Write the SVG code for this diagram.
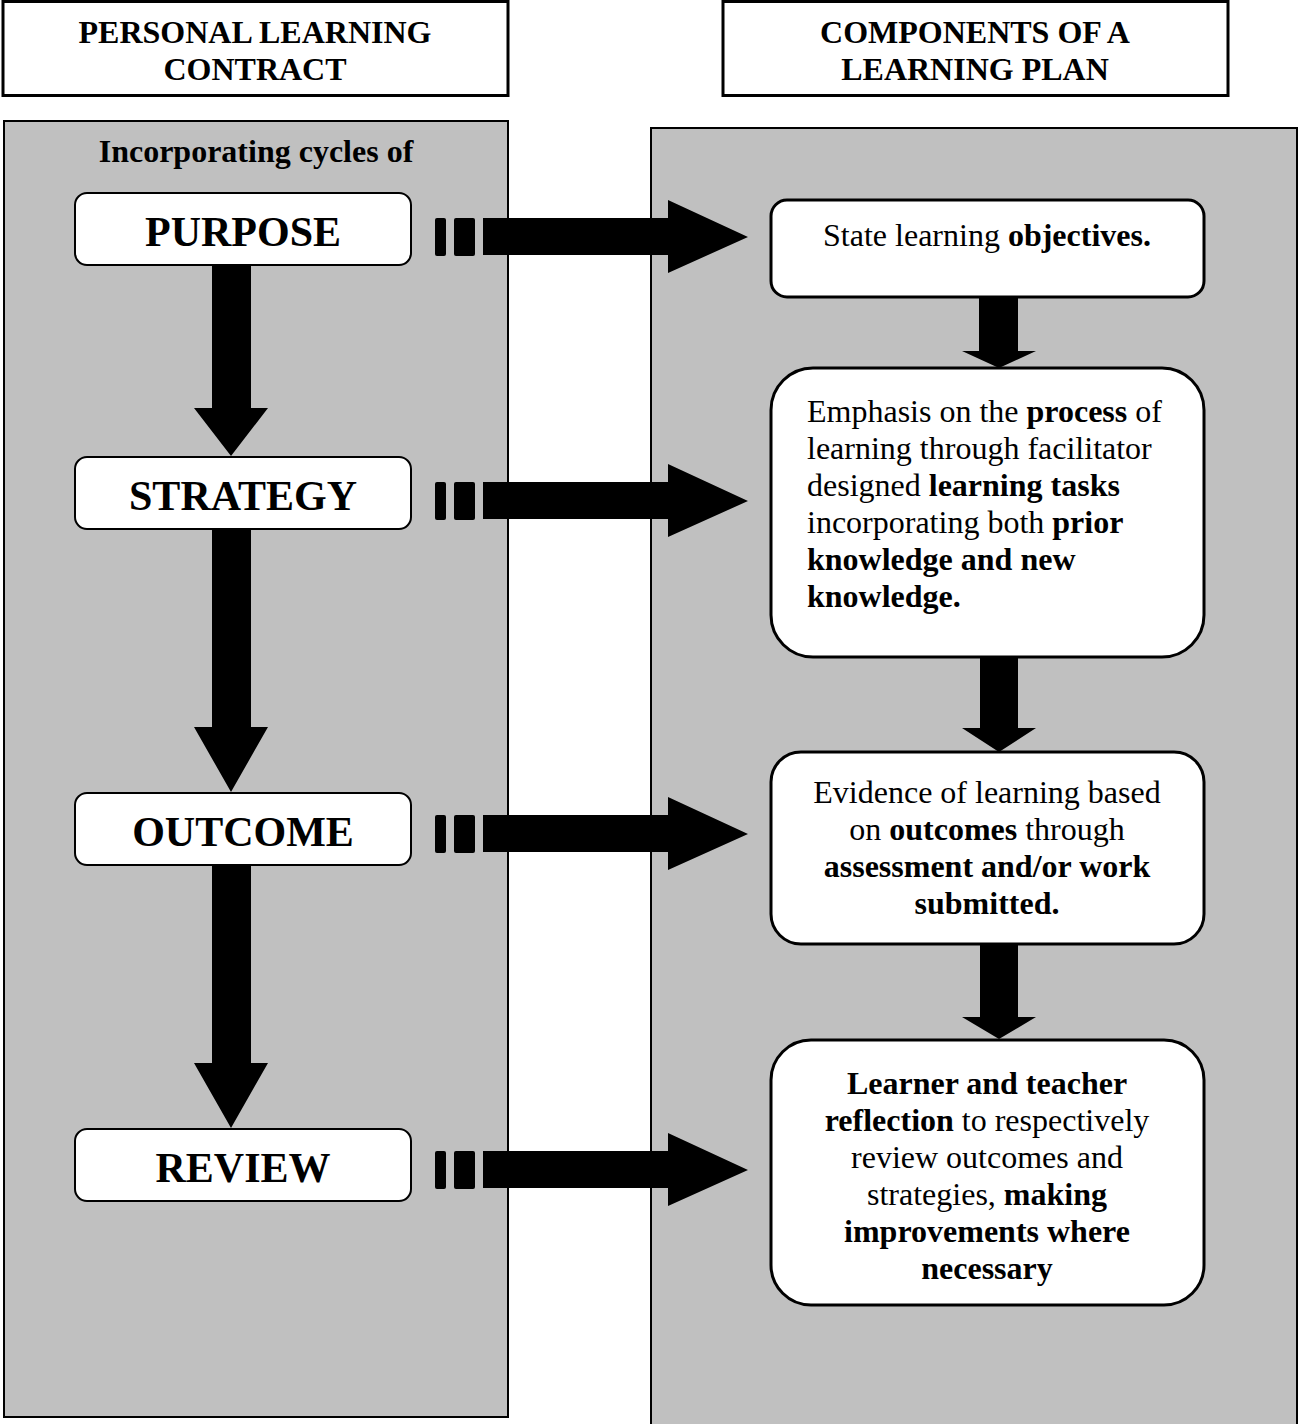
<svg xmlns="http://www.w3.org/2000/svg" xmlns:xlink="http://www.w3.org/1999/xlink" width="1299" height="1424" viewBox="0 0 1299 1424">
<style>
text{font-family:"Liberation Serif","Times New Roman",serif;fill:#000}
.hdr{font-size:32px;font-weight:bold;text-anchor:middle}
.panel{fill:#c0c0c0;stroke:#000;stroke-width:2}
.hbox{fill:#fff;stroke:#000;stroke-width:3}
.lbox{fill:#fff;stroke:#000;stroke-width:2}
.rbox{fill:#fff;stroke:#000;stroke-width:3}
.big{font-size:42px;font-weight:bold;text-anchor:middle}
.body{font-size:32px}
.mid{text-anchor:middle}
.b{font-weight:bold}
.arr{fill:#000}
</style>
<defs>
<g id="harrow" class="arr">
<rect x="435" y="-19" width="11" height="38" rx="2"/>
<rect x="454" y="-19" width="21" height="38" rx="2"/>
<polygon points="483,-19 668,-19 668,-37 748,0 668,36 668,18 483,18"/>
</g>
</defs>
<g id="headers">
<g id="header-left">
<rect class="hbox" x="3" y="1.5" width="505" height="94"/>
<text class="hdr" x="255" y="43">PERSONAL LEARNING</text>
<text class="hdr" x="255" y="80">CONTRACT</text>
</g>
<g id="header-right">
<rect class="hbox" x="723" y="1.5" width="505" height="94"/>
<text class="hdr" x="975" y="43">COMPONENTS OF A</text>
<text class="hdr" x="975" y="80">LEARNING PLAN</text>
</g>
</g>
<g id="panels">
<rect id="panel-left" class="panel" x="4" y="121" width="504" height="1296"/>
<rect id="panel-right" class="panel" x="651" y="128" width="646" height="1310"/>
<text class="hdr" x="256" y="162">Incorporating cycles of</text>
</g>
<g id="connectors">
<use xlink:href="#harrow" href="#harrow" y="237"/>
<use xlink:href="#harrow" href="#harrow" y="501"/>
<use xlink:href="#harrow" href="#harrow" y="834"/>
<use xlink:href="#harrow" href="#harrow" y="1170"/>
<polygon class="arr" points="212,265 251,265 251,408 268,408 231,456 194,408 212,408"/>
<polygon class="arr" points="212,529 251,529 251,727 268,727 231,792 194,727 212,727"/>
<polygon class="arr" points="212,865 251,865 251,1063 268,1063 231,1128 194,1063 212,1063"/>
<polygon class="arr" points="979,297 1018,297 1018,351 1036,351 999,368 962,351 979,351"/>
<polygon class="arr" points="980,657 1018,657 1018,728 1036,728 999,752 962,728 980,728"/>
<polygon class="arr" points="980,944 1018,944 1018,1017 1036,1017 999,1039 962,1017 980,1017"/>
</g>
<g id="node-purpose">
<rect class="lbox" x="75" y="193" width="336" height="72" rx="12"/>
<text class="big" x="243" y="246">PURPOSE</text>
</g>
<g id="node-strategy">
<rect class="lbox" x="75" y="457" width="336" height="72" rx="12"/>
<text class="big" x="243" y="510">STRATEGY</text>
</g>
<g id="node-outcome">
<rect class="lbox" x="75" y="793" width="336" height="72" rx="12"/>
<text class="big" x="243" y="846">OUTCOME</text>
</g>
<g id="node-review">
<rect class="lbox" x="75" y="1129" width="336" height="72" rx="12"/>
<text class="big" x="243" y="1182">REVIEW</text>
</g>
<g id="node-objectives">
<rect class="rbox" x="771" y="200" width="433" height="97" rx="16"/>
<text class="body mid" x="987" y="246">State learning <tspan class="b">objectives.</tspan></text>
</g>
<g id="node-process">
<rect class="rbox" x="771" y="368" width="433" height="289" rx="42"/>
<text class="body" x="807" y="422">Emphasis on the <tspan class="b">process</tspan> of</text>
<text class="body" x="807" y="459">learning through facilitator</text>
<text class="body" x="807" y="496">designed <tspan class="b">learning tasks</tspan></text>
<text class="body" x="807" y="533">incorporating both <tspan class="b">prior</tspan></text>
<text class="body b" x="807" y="570">knowledge and new</text>
<text class="body b" x="807" y="607">knowledge.</text>
</g>
<g id="node-evidence">
<rect class="rbox" x="771" y="752" width="433" height="192" rx="30"/>
<text class="body mid" x="987" y="803">Evidence of learning based</text>
<text class="body mid" x="987" y="840">on <tspan class="b">outcomes</tspan> through</text>
<text class="body mid b" x="987" y="877">assessment and/or work</text>
<text class="body mid b" x="987" y="914">submitted.</text>
</g>
<g id="node-reflection">
<rect class="rbox" x="771" y="1040" width="433" height="265" rx="40"/>
<text class="body mid b" x="987" y="1094">Learner and teacher</text>
<text class="body mid" x="987" y="1131"><tspan class="b">reflection</tspan> to respectively</text>
<text class="body mid" x="987" y="1168">review outcomes and</text>
<text class="body mid" x="987" y="1205">strategies, <tspan class="b">making</tspan></text>
<text class="body mid b" x="987" y="1242">improvements where</text>
<text class="body mid b" x="987" y="1279">necessary</text>
</g>
</svg>
